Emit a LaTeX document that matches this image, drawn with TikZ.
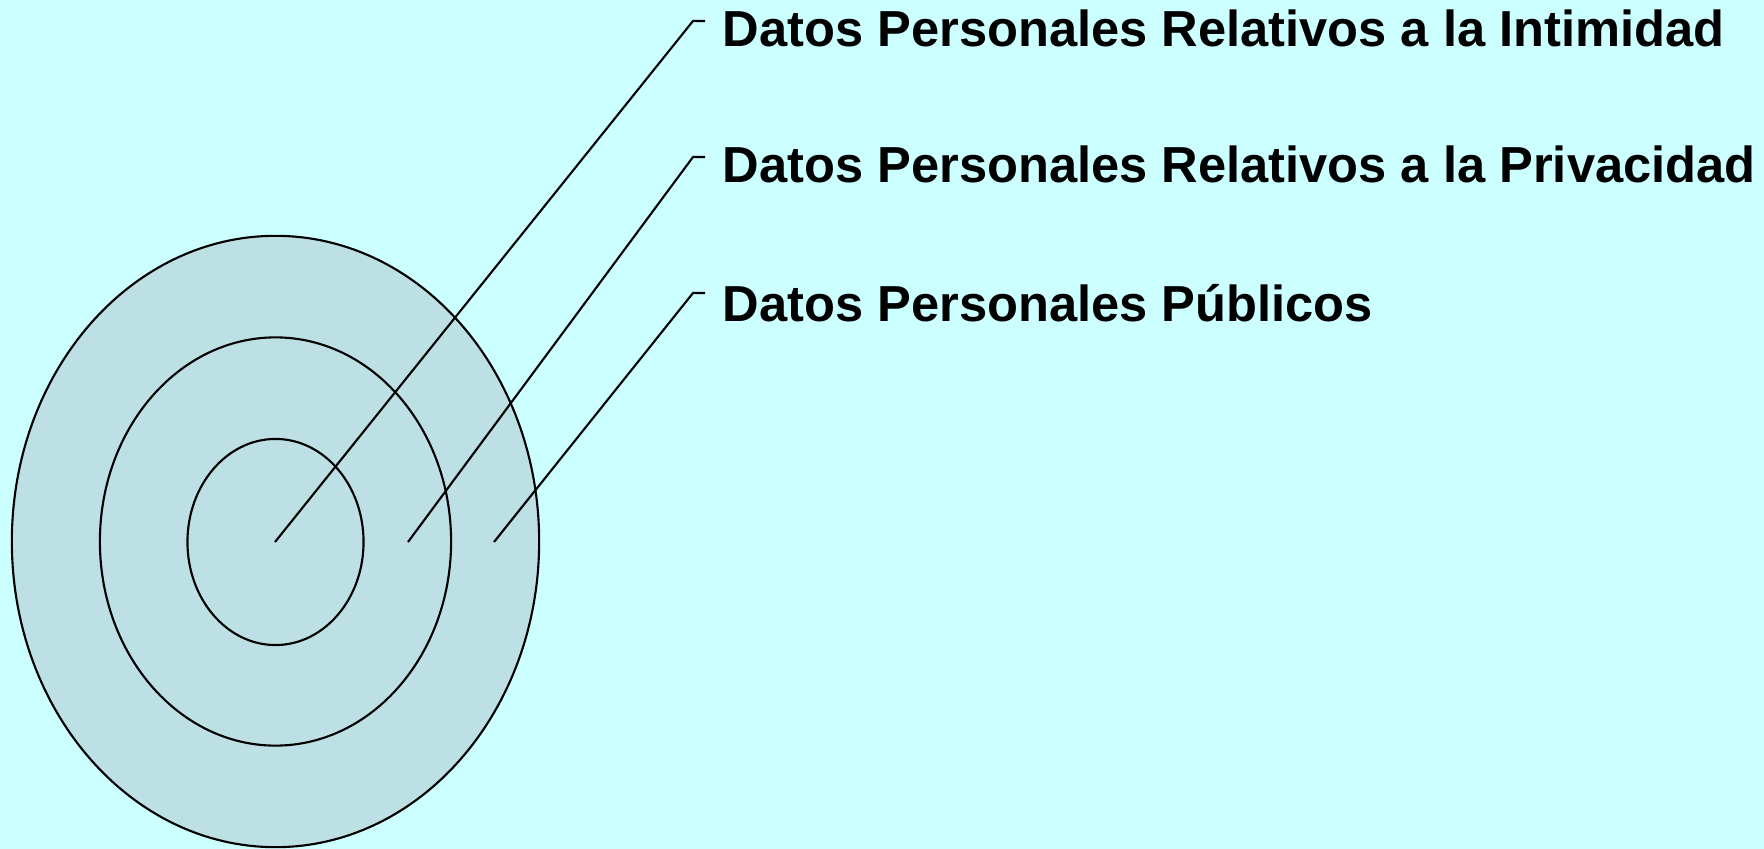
\documentclass[tikz,border=0pt]{standalone}
\usepackage{fontspec}
\setmainfont{Liberation Sans}
\usetikzlibrary{positioning,shapes.geometric}
\definecolor{bgcyan}{HTML}{CCFFFF}
\definecolor{ringfill}{HTML}{BCE0E3}
\tikzset{
    ring/.style={
        ellipse,
        draw=black,
        line width=0.6pt,
        fill=ringfill,
        inner sep=0pt
    },
    tag/.style={
        anchor=base west,
        inner sep=0pt,
        font=\fontsize{14.4}{17}\selectfont\bfseries
    },
    leader/.style={draw, line width=0.6pt}
}
\begin{document}
\begin{tikzpicture}[x=0.01cm, y=-0.01cm]
    % background
    \fill[bgcyan] (0,0) rectangle (1764,849);
    \useasboundingbox (0,0) rectangle (1764,849);

    % rings
    \node[ring, minimum width=5.27cm, minimum height=6.11cm] (outer) at (275.5,541.5) {};
    \node[ring, minimum width=3.51cm, minimum height=4.08cm] (middle) at (275.5,541.5) {};
    \node[ring, minimum width=1.76cm, minimum height=2.06cm] (inner) at (275.5,542) {};

    % labels
    \node[tag] (intimidad) at (722,47) {Datos Personales Relativos a la Intimidad};
    \node[tag] (privacidad) at (722,183) {Datos Personales Relativos a la Privacidad};
    \node[tag] (publicos) at (722,322) {Datos Personales Públicos};

    % leader ends
    \coordinate (p1) at (275,542);
    \coordinate (p2) at (408,542);
    \coordinate (p3) at (494,542);
    \coordinate (k1) at (693,21);
    \coordinate (k2) at (693,157);
    \coordinate (k3) at (693,293);

    \draw[leader] (p1) -- (k1) -- ++(12,0);
    \draw[leader] (p2) -- (k2) -- ++(12,0);
    \draw[leader] (p3) -- (k3) -- ++(12,0);
\end{tikzpicture}
\end{document}
